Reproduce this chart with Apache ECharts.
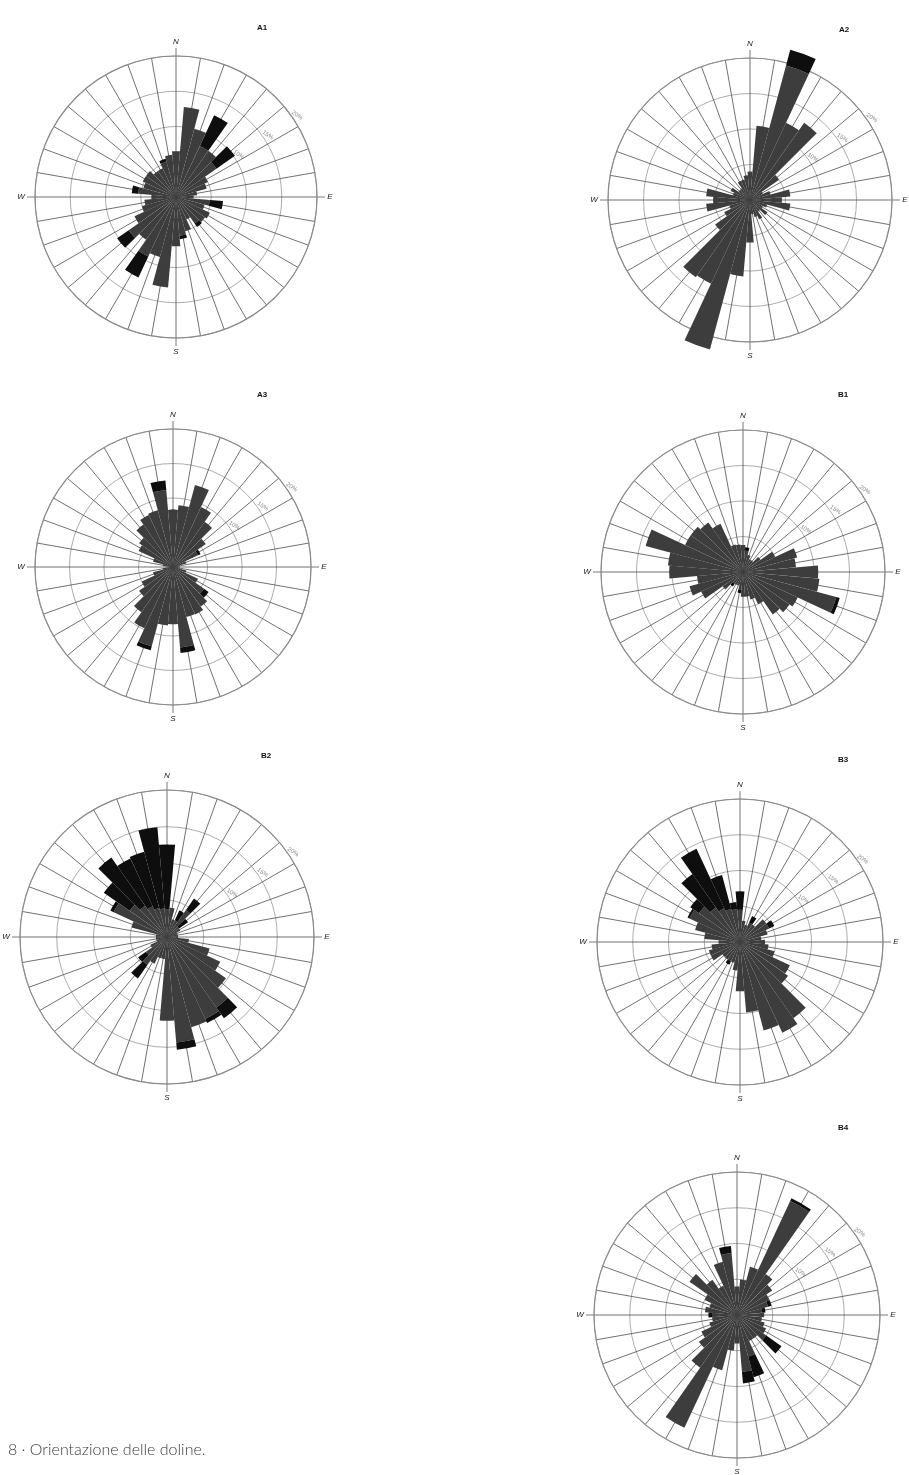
<!DOCTYPE html>
<html>
<head>
<meta charset="utf-8">
<script src="https://cdn.jsdelivr.net/npm/echarts@6/dist/echarts.min.js"></script>
<style>
html, body { margin: 0; padding: 0; background: #fff; }
#roses { width: 909px; height: 1475px; }
</style>
</head>
<body>
<div id="roses"></div>
<script>
// 36 directions, 10 degree steps, clockwise from N
var directions = [];
for (var d = 0; d < 360; d += 10) directions.push(String(d));

// percent of dolines per direction: dark grey part + black part stacked on it
var a1Gray  = [6.5, 12.8, 10, 8, 8, 7, 5, 4.5, 3, 2.5, 4.8, 4.2, 5.3, 5, 4.6, 3.5, 5, 5.5,
               7, 12.9, 8.8, 9.3, 7.4, 8.2, 6.5, 5, 4.5, 3.5, 5.4, 4.8, 5.2, 5.2, 4.5, 4.5, 5.2, 6];
var a1Black = [0, 0, 0, 4.8, 0, 3.2, 0, 0, 0, 0, 1.9, 0, 0, 0, 0.6, 0, 0, 0.5,
               0, 0, 0, 3.3, 0, 2, 0, 0, 0, 0, 0.9, 0, 0, 0, 0, 0, 0.4, 0];

var a2Gray  = [4, 10.5, 19.6, 12, 13.3, 5, 2, 3, 5.7, 4.5, 5.7, 2.5, 2, 3, 2, 3, 2.5, 2,
               6, 10.8, 21.8, 13, 13.3, 6, 4, 3, 6.2, 5.2, 6.2, 2.5, 3, 2, 2, 3, 3, 3.5];
var a2Black = [0, 0, 2.3, 0, 0, 0, 0, 0, 0, 0, 0, 0, 0, 0, 0, 0, 0, 0,
               0, 0, 0, 0, 0, 0, 0, 0, 0, 0, 0, 0, 0, 0, 0, 0, 0, 0];

var a3Gray  = [8.3, 9, 12.3, 9.6, 8, 5.8, 4, 2, 1, 0.5, 1, 2, 4, 5.5, 7, 7.6, 7.5, 11.7,
               8.3, 8.5, 11.9, 9.8, 8, 6, 5, 3, 1.5, 0.5, 1.5, 3, 5.5, 6, 7.5, 8.3, 8.5, 11.2];
var a3Black = [0, 0, 0, 0, 0, 0, 0.4, 0, 0, 0, 0, 0, 0, 0.8, 0, 0, 0, 0.8,
               0, 0, 0.6, 0, 0, 0, 0, 0, 0, 0, 0, 0, 0, 0, 0, 0, 0, 1.4];

var b1Gray  = [3.8, 3, 2.5, 2, 2, 3, 5, 7.9, 7.5, 10.6, 10.8, 13.6, 8.5, 8, 7.3, 5, 4, 3.5,
               3.5, 2.5, 2, 2, 2, 3.5, 6.5, 7.8, 6.5, 10.4, 10.6, 14.2, 9, 9, 8.5, 7.5, 4, 3.9];
var b1Black = [0, 0.5, 0, 0, 0, 0, 0, 0, 0, 0, 0, 0.5, 0, 0, 0, 0, 0, 0,
               0, 0.5, 0, 0, 0.5, 0, 0, 0, 0, 0, 0, 0, 0, 0, 0, 0, 0, 0];

var b2Gray  = [3.8, 4, 2.5, 2.5, 4.5, 2, 2, 1.5, 1.5, 1.5, 3, 6, 8, 9.8, 11.7, 12.3, 12.7, 14.4,
               11.4, 3, 3, 4, 4.6, 3.5, 2.5, 1.5, 1.5, 1.5, 1.5, 5, 8, 6.2, 5.2, 4.6, 4.1, 3.9];
var b2Black = [8.8, 0, 0, 1.5, 1.9, 1.5, 0, 0, 0, 0, 0, 0, 0, 0, 1.8, 0.6, 0, 1,
               0, 0, 0, 0, 2.3, 1.3, 0, 0, 0, 0, 0, 0, 0.5, 4.3, 8, 7.2, 7.9, 11.1];

var b3Gray  = [4.5, 3, 2.5, 3, 3, 4.5, 4.5, 4, 3, 3.5, 4, 5, 7.7, 8.2, 13, 14, 12.8, 9.9,
               6.9, 4, 3, 3, 3, 3, 4.5, 4.5, 4, 3, 5, 6.5, 7.8, 7, 5.9, 5.2, 4.8, 4.6];
var b3Black = [2.6, 0, 0, 1, 0, 0, 0.8, 0, 0, 0, 0, 0, 0, 0, 0, 0, 0, 0,
               0, 0, 0, 0.5, 0, 0, 0, 0, 0, 0, 0, 0, 0.3, 1.5, 5.7, 9.2, 4.9, 1];

var b4Gray  = [4, 5, 7, 17.6, 7, 6, 5, 4.5, 3.5, 3.8, 3.5, 4, 4.5, 5, 4, 4, 6, 8,
               4, 5, 8, 17.4, 9, 6.5, 5.5, 4, 3.5, 3.5, 4.5, 4, 5, 8.1, 6, 4.5, 7.7, 8.7];
var b4Black = [0, 0, 0, 0.4, 0, 0, 0, 0.5, 0.5, 0, 0, 0, 0, 2.6, 0, 0, 3, 1.6,
               0, 0, 0, 0, 0, 0, 0, 0, 0, 0.5, 0, 0, 0, 0, 0, 0, 0, 1];

var ringLabels = [10, 15, 20];

var panels = [
  { name: 'A1', gray: a1Gray, black: a1Black, cx: 176, cy: 197, r: 141, tx: 262, ty: 28 },
  { name: 'A2', gray: a2Gray, black: a2Black, cx: 750, cy: 200, r: 142, tx: 844, ty: 30 },
  { name: 'A3', gray: a3Gray, black: a3Black, cx: 173, cy: 567, r: 138, tx: 262, ty: 395 },
  { name: 'B1', gray: b1Gray, black: b1Black, cx: 743, cy: 572, r: 142, tx: 843, ty: 395 },
  { name: 'B2', gray: b2Gray, black: b2Black, cx: 167, cy: 937, r: 147, tx: 266, ty: 756 },
  { name: 'B3', gray: b3Gray, black: b3Black, cx: 740, cy: 942, r: 143, tx: 843, ty: 760 },
  { name: 'B4', gray: b4Gray, black: b4Black, cx: 737, cy: 1315, r: 143, tx: 843, ty: 1128 }
];

var polar = [], angleAxis = [], radiusAxis = [], series = [], graphic = [];
var labelFont = 'Liberation Sans';

panels.forEach(function (p, i) {
  // grid polar: radial lines on every 10 degrees, circles every 5 %
  polar.push({ center: [p.cx, p.cy], radius: p.r });
  // bar polar: turned by half a sector so bars sit centred on the radial lines
  polar.push({ center: [p.cx, p.cy], radius: p.r });

  angleAxis.push({
    polarIndex: 2 * i, type: 'category', data: directions,
    startAngle: 90, clockwise: true,
    axisLine: { lineStyle: { color: '#8c8c8c', width: 1.2 } },
    axisTick: { show: false, interval: 0 },
    axisLabel: { show: false, interval: 0 },
    splitLine: { show: true, interval: 0, lineStyle: { color: '#4d4d4d', width: 0.8 } }
  });
  angleAxis.push({
    polarIndex: 2 * i + 1, type: 'category', data: directions,
    startAngle: 95, clockwise: true, show: false
  });
  radiusAxis.push({
    polarIndex: 2 * i, min: 0, max: 20, interval: 5,
    axisLine: { show: false }, axisTick: { show: false }, axisLabel: { show: false },
    splitLine: { show: true, lineStyle: { color: '#a3a3a3', width: 0.9 } }
  });
  radiusAxis.push({ polarIndex: 2 * i + 1, min: 0, max: 20, show: false });

  series.push({
    name: p.name + ' base', type: 'bar', coordinateSystem: 'polar', polarIndex: 2 * i + 1,
    stack: p.name, data: p.gray, barCategoryGap: '0%', clip: false, silent: true,
    itemStyle: { color: '#3d3d3d' }
  });
  series.push({
    name: p.name + ' top', type: 'bar', coordinateSystem: 'polar', polarIndex: 2 * i + 1,
    stack: p.name, data: p.black, barCategoryGap: '0%', clip: false, silent: true,
    itemStyle: { color: '#0e0e0e' }
  });

  // panel title
  graphic.push({ type: 'text', x: p.tx, y: p.ty, style: {
    text: p.name, fill: '#111', font: 'bold 8px ' + labelFont, textAlign: 'center', textVerticalAlign: 'middle' } });

  // compass points with short ticks outside the ring
  var ext = 8;
  graphic.push({ type: 'line', shape: { x1: p.cx, y1: p.cy - p.r, x2: p.cx, y2: p.cy - p.r - ext }, style: { stroke: '#555', lineWidth: 0.8 } });
  graphic.push({ type: 'line', shape: { x1: p.cx, y1: p.cy + p.r, x2: p.cx, y2: p.cy + p.r + ext }, style: { stroke: '#555', lineWidth: 0.8 } });
  graphic.push({ type: 'line', shape: { x1: p.cx - p.r, y1: p.cy, x2: p.cx - p.r - ext, y2: p.cy }, style: { stroke: '#555', lineWidth: 0.8 } });
  graphic.push({ type: 'line', shape: { x1: p.cx + p.r, y1: p.cy, x2: p.cx + p.r + ext, y2: p.cy }, style: { stroke: '#555', lineWidth: 0.8 } });
  var pts = [
    ['N', p.cx, p.cy - p.r - ext - 6],
    ['S', p.cx, p.cy + p.r + ext + 6],
    ['W', p.cx - p.r - ext - 6, p.cy],
    ['E', p.cx + p.r + ext + 5, p.cy]
  ];
  pts.forEach(function (t) {
    graphic.push({ type: 'text', x: t[1], y: t[2], style: {
      text: t[0], fill: '#222', font: 'italic 8px ' + labelFont, textAlign: 'center', textVerticalAlign: 'middle' } });
  });

  // ring percentages along the NE direction
  var az = 56 * Math.PI / 180;
  ringLabels.forEach(function (v) {
    var rr = p.r * v / 20 + 5;
    graphic.push({ type: 'text', x: p.cx + rr * Math.sin(az), y: p.cy - rr * Math.cos(az), rotation: -0.6, style: {
      text: v + '%', fill: '#8a8a8a', font: '6px ' + labelFont, textAlign: 'center', textVerticalAlign: 'middle' } });
  });
});

graphic.push({ type: 'text', x: 8, y: 1450, style: {
  text: '8 · Orientazione delle doline.', fill: '#3a3a3a', font: '300 16px Lato', textVerticalAlign: 'middle' } });

var chart = echarts.init(document.getElementById('roses'));
chart.setOption({
  backgroundColor: '#ffffff',
  animation: false,
  polar: polar,
  angleAxis: angleAxis,
  radiusAxis: radiusAxis,
  series: series,
  graphic: graphic
});
</script>
</body>
</html>
